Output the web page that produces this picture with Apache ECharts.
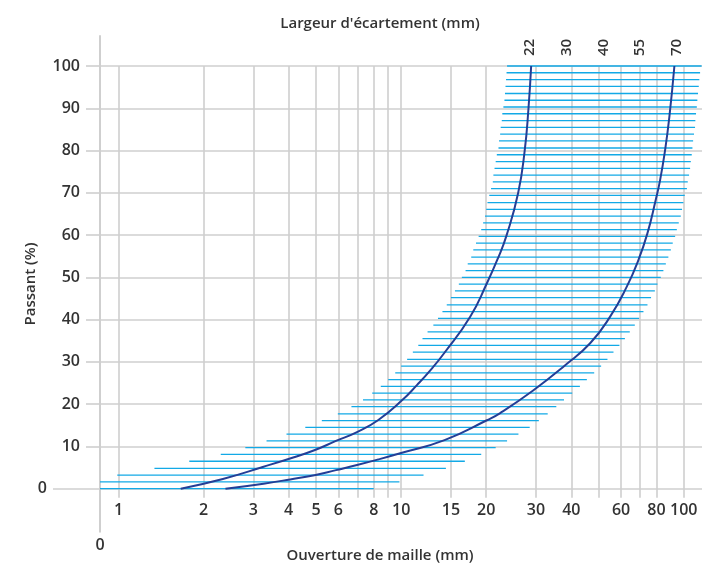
<!DOCTYPE html>
<html>
<head>
<meta charset="utf-8">
<script src="https://cdn.jsdelivr.net/npm/echarts@6/dist/echarts.min.js"></script>
<style>
html,body{margin:0;padding:0;background:#ffffff;}
#chart{width:702px;height:567px;}
</style>
</head>
<body>
<div id="chart"></div>
<script>
// ---- data ----
const meshGrid = [1,2,3,4,5,6,7,8,9,10,15,20,30,40,50,60,70,80,100];
const meshLabels = [1,2,3,4,5,6,8,10,15,20,30,40,60,80,100];
const passTicks = [10,20,30,40,50,60,70,80,90,100];
const gapLabels = ['22','30','40','55','70'];

const bandLevels = [0,1.6,3.2,4.8,6.5,8.1,9.7,11.3,12.9,14.5,16.1,17.7,19.4,21.0,22.6,24.2,25.8,27.4,29.0,30.6,
  32.3,33.9,35.5,37.1,38.7,40.3,41.9,43.5,45.2,46.8,48.4,50.0,51.6,53.2,54.8,56.5,58.1,59.7,61.3,62.9,
  64.5,66.1,67.7,69.4,71.0,72.6,74.2,75.8,77.4,79.0,80.6,82.3,83.9,85.5,87.1,88.7,90.3,91.9,93.5,95.2,
  96.8,98.4,100];
const bandFrom = [0.86,0.86,0.99,1.34,1.78,2.30,2.81,3.34,3.93,4.58,5.24,5.97,6.67,7.33,7.90,8.47,9.00,9.53,10.0,10.5,
  11.0,11.5,11.9,12.4,13.0,13.5,14.0,14.5,15.0,15.5,16.0,16.4,16.9,17.2,17.7,18.0,18.4,18.8,19.2,19.5,
  19.8,20.0,20.2,20.5,20.8,21.1,21.2,21.4,21.6,21.8,22.1,22.2,22.4,22.5,22.7,22.8,23.0,23.2,23.3,23.4,
  23.5,23.6,23.7];
const bandTo = [8.00,9.86,12.0,14.4,16.8,19.2,21.6,23.7,26.0,28.5,30.7,33.0,35.4,37.7,40.3,42.9,45.4,48.2,51.0,53.7,
  56.4,59.2,61.9,64.4,67.1,69.5,72.0,74.4,76.6,79.0,80.7,82.9,84.7,86.4,88.2,90.0,91.4,93.2,94.5,96.0,
  97.6,98.6,99.7,100.8,102.6,103.3,104.4,105.3,105.9,106.7,107.3,107.9,108.7,109.6,109.9,110.5,111.2,111.7,112.3,113.0,
  113.5,114.2,115.6];

const curve22Mesh = [1.66,2.34,3.26,4.15,4.93,5.88,6.98,8.28,10.07,11.37,12.68,14.21,17.55,20.11,22.00,23.62,25.95,27.36,28.22,28.84];
const curve22Pass = [0,2.3,5.2,7.4,9.1,11.3,13.4,16.2,20.9,24.5,28.0,32.1,40.7,48.6,54.5,60.0,70.0,80.0,90.0,100];
const curve70Mesh = [2.39,3.26,4.05,4.93,5.88,6.98,8.28,10.07,14.24,20.11,22.41,29.39,38.04,46.63,54.88,62.86,69.10,74.35,79.55,82.45,85.88,88.94,92.64];
const curve70Pass = [0,1.2,2.2,3.2,4.4,5.6,6.9,8.5,11.5,16.2,17.9,23.3,29.2,34.4,40.7,47.8,54.1,60.4,68.3,73.0,80.1,88.0,100];

// ---- styles ----
const FONT = '"Open Sans", "DejaVu Sans", sans-serif';
const TXT = '#333333';
const GRIDC = '#cfcfcf';
const BAND = '#12a9e6';
const CURVE = '#243e96';

const labelStyle = {color: TXT, fontSize: 16, fontWeight: 600, fontFamily: FONT};

const chart = echarts.init(document.getElementById('chart'), null, {renderer: 'canvas'});

const option = {
  animation: false,
  backgroundColor: '#ffffff',
  textStyle: {fontFamily: FONT},
  grid: [
    {left: 100, top: 66, width: 602, height: 431.8},
    {left: 100, top: 36, width: 1, height: 495.7},
    {left: 530, top: 66, width: 146.7, height: 1}
  ],
  xAxis: [
    {
      gridIndex: 0, type: 'log', logBase: 10, min: 0.86, max: 116,
      axisLine: {show: false},
      axisTick: {show: false, customValues: meshGrid},
      splitLine: {show: true, lineStyle: {color: GRIDC, width: 1.6}},
      minorTick: {show: false}, minorSplitLine: {show: false},
      axisLabel: Object.assign({customValues: meshLabels, margin: 5, formatter: v => String(+v)}, labelStyle)
    },
    {
      gridIndex: 1, type: 'value', min: 0, max: 1,
      axisLine: {show: false}, axisTick: {show: false}, splitLine: {show: false},
      axisLabel: Object.assign({customValues: [0], margin: 6, formatter: () => '0'}, labelStyle)
    },
    {
      gridIndex: 2, type: 'category', data: gapLabels, boundaryGap: false, position: 'top',
      axisLine: {show: false}, axisTick: {show: false}, splitLine: {show: false},
      axisLabel: Object.assign({rotate: 90, margin: 10, interval: 0}, labelStyle, {fontSize: 15})
    }
  ],
  yAxis: [
    {
      gridIndex: 0, type: 'value', min: -2.15, max: 100, position: 'left', offset: 0,
      axisLine: {show: false},
      axisTick: {show: true, customValues: passTicks, length: 14, lineStyle: {color: GRIDC, width: 1.6}},
      splitLine: {show: true, lineStyle: {color: GRIDC, width: 1.6}},
      axisLabel: Object.assign({customValues: passTicks, margin: 20}, labelStyle)
    },
    {
      gridIndex: 0, type: 'value', min: -2.15, max: 100, position: 'left', offset: 0,
      axisLine: {show: false},
      axisTick: {show: true, customValues: [0], length: 47, lineStyle: {color: GRIDC, width: 1.6}},
      splitLine: {show: true, lineStyle: {color: GRIDC, width: 1.6}},
      axisLabel: Object.assign({customValues: [0], margin: 53}, labelStyle)
    },
    {
      gridIndex: 1, type: 'value', min: 0, max: 1,
      axisLine: {show: true, lineStyle: {color: GRIDC, width: 2}},
      axisTick: {show: false}, splitLine: {show: false}, axisLabel: {show: false}
    },
    {gridIndex: 2, type: 'value', show: false}
  ],
  graphic: [
    {type: 'text', x: 380, y: 24, style: {text: "Largeur d'écartement (mm)", fill: TXT, font: '600 15px ' + FONT, align: 'center', verticalAlign: 'middle'}},
    {type: 'text', x: 380, y: 556, style: {text: 'Ouverture de maille (mm)', fill: TXT, font: '600 15px ' + FONT, align: 'center', verticalAlign: 'middle'}},
    {type: 'text', x: 31, y: 284, rotation: Math.PI / 2, style: {text: 'Passant (%)', fill: TXT, font: '600 15px ' + FONT, align: 'center', verticalAlign: 'middle'}}
  ],
  series: [
    {
      name: 'Bande', type: 'custom', xAxisIndex: 0, yAxisIndex: 0, silent: true, z: 3,
      data: bandLevels.map((p, i) => [bandFrom[i], bandTo[i], p]),
      encode: {x: [0, 1], y: 2},
      renderItem: function (params, api) {
        const a = api.coord([api.value(0), api.value(2)]);
        const b = api.coord([api.value(1), api.value(2)]);
        return {
          type: 'line',
          shape: {x1: a[0], y1: a[1], x2: b[0], y2: b[1]},
          style: {stroke: BAND, lineWidth: 1.3}
        };
      }
    },
    {
      name: '22', type: 'line', xAxisIndex: 0, yAxisIndex: 0, z: 5,
      showSymbol: false, smooth: 0.5, silent: true,
      lineStyle: {color: CURVE, width: 2},
      data: curve22Mesh.map((m, i) => [m, curve22Pass[i]])
    },
    {
      name: '70', type: 'line', xAxisIndex: 0, yAxisIndex: 0, z: 5,
      showSymbol: false, smooth: 0.5, silent: true,
      lineStyle: {color: CURVE, width: 2},
      data: curve70Mesh.map((m, i) => [m, curve70Pass[i]])
    }
  ]
};
chart.setOption(option);
</script>
</body>
</html>
